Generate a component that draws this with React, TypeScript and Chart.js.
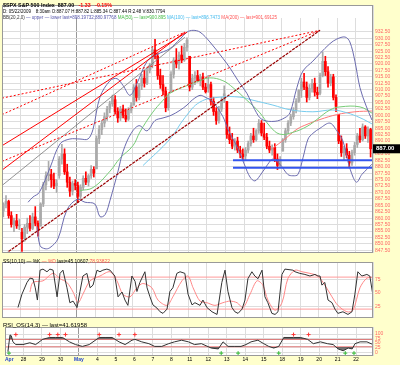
import React, { useEffect, useRef } from 'react';
import { Chart, registerables } from 'chart.js';
Chart.register(...registerables);

const FONT = "'Liberation Sans', Arial, sans-serif";
const YELLOW = '#FFFFCC';

// ---------- categories ----------
const dayLabels = ['Apr', '28', '29', '30', 'May', '4', '5', '6', '7', '8', '11', '12', '13', '14', '15', '18', '19', '20', '21', '22'];
const barsPerDay = 7;
const X_MIN = -0.5;
const X_MAX = 138.9;

// ---------- price tick labels ----------
const priceTicks = [932.5, 930, 927.5, 925, 922.5, 920, 917.5, 915, 912.5, 910, 907.5, 905, 902.5, 900, 897.5, 895, 892.5, 890, 887.5, 885, 882.5, 880, 877.5, 875, 872.5, 870, 867.5, 865, 862.5, 860, 857.5, 855, 852.5, 850, 847.5];
const stochTicks = [25, 50, 75];
const rsiTicks = [0, 25, 50, 75, 100];
const lastPrice = 887.0;

// ---------- candles (hourly-ish bars) ----------
const opens = [
  862.8, 865.5, 866.5, 861.0, 857.5, 859.0, 857.0,
  854.5, 852.0, 856.5, 858.0, 856.0, 860.5, 858.0,
  856.9, 865.5, 873.0, 876.5, 877.0, 875.0, 872.5,
  876.6, 883.0, 885.0, 878.0, 874.0, 870.5, 873.5,
  872.7, 868.5, 872.0, 875.5, 874.0, 876.5, 879.0,
  879.2, 891.0, 894.5, 897.0, 899.5, 902.5, 904.5,
  906.1, 901.5, 899.0, 902.5, 900.0, 898.5, 902.0,
  904.0, 911.0, 907.0, 911.5, 914.5, 912.5, 917.5,
  919.6, 925.5, 923.0, 915.5, 912.0, 909.5, 903.0,
  909.0, 916.0, 921.5, 920.0, 923.5, 921.5, 926.5,
  923.0, 911.0, 914.5, 915.5, 913.5, 915.0, 911.0,
  910.5, 912.0, 905.5, 901.5, 898.0, 902.5, 906.0,
  905.4, 892.5, 890.5, 888.0, 890.0, 886.5, 885.0,
  884.2, 886.5, 889.0, 892.0, 890.5, 894.0, 897.0,
  892.8, 891.5, 888.0, 886.5, 887.5, 883.0, 880.5,
  886.1, 890.5, 894.0, 897.0, 899.5, 902.0, 905.5,
  909.7, 913.0, 911.0, 907.0, 910.5, 912.5, 909.0,
  908.6, 915.5, 921.0, 917.0, 912.5, 915.0, 907.0,
  900.4, 890.0, 885.5, 887.0, 884.5, 881.5, 885.5,
  888.7, 892.0, 890.5, 895.5, 892.0, 894.5,
];
const highs = [
  866.0, 868.8, 867.0, 862.5, 860.0, 861.5, 859.5,
  856.0, 857.5, 860.0, 861.0, 862.0, 864.5, 859.0,
  866.0, 874.0, 878.0, 882.1, 879.0, 877.5, 875.0,
  884.0, 888.7, 887.0, 881.0, 876.0, 874.5, 875.0,
  874.0, 873.0, 876.5, 878.0, 877.0, 880.5, 880.0,
  892.0, 896.0, 898.0, 901.0, 903.5, 905.5, 907.9,
  907.7, 903.0, 903.5, 904.0, 902.5, 903.0, 905.0,
  912.0, 914.0, 912.5, 916.0, 917.5, 918.5, 920.3,
  926.5, 929.6, 924.0, 918.0, 915.5, 911.0, 908.5,
  917.0, 922.5, 926.0, 924.5, 927.0, 928.0, 930.2,
  923.0, 916.0, 917.0, 917.5, 916.0, 916.5, 912.5,
  915.6, 913.0, 907.0, 903.0, 903.5, 907.0, 911.5,
  905.4, 895.5, 893.0, 891.0, 891.5, 888.0, 887.0,
  887.5, 890.0, 893.0, 895.0, 894.5, 898.4, 898.0,
  897.0, 893.0, 890.0, 888.5, 889.0, 885.0, 884.0,
  891.0, 895.0, 898.0, 900.5, 903.0, 906.5, 910.0,
  914.5, 916.4, 913.0, 912.0, 914.0, 914.5, 911.0,
  916.5, 924.6, 923.0, 919.0, 916.0, 916.0, 908.0,
  900.4, 892.0, 888.0, 889.0, 886.0, 886.5, 889.5,
  893.0, 895.0, 896.7, 896.0, 895.5, 895.0,
];
const lows = [
  860.5, 864.0, 860.0, 856.5, 854.7, 856.0, 855.5,
  847.1, 851.0, 854.0, 855.0, 855.5, 857.0, 853.0,
  856.9, 864.5, 871.0, 874.5, 872.0, 871.5, 870.0,
  875.5, 881.0, 877.0, 872.0, 868.5, 869.0, 871.0,
  866.1, 867.5, 871.0, 873.0, 872.5, 875.5, 876.0,
  879.2, 889.0, 892.5, 895.5, 898.0, 901.0, 903.5,
  900.5, 897.3, 898.0, 899.0, 897.5, 898.0, 901.0,
  904.0, 905.5, 906.0, 910.0, 911.0, 912.0, 916.5,
  918.5, 922.0, 914.0, 910.5, 908.0, 901.4, 902.0,
  909.0, 914.5, 918.5, 918.0, 920.5, 921.0, 925.0,
  909.5, 910.0, 912.0, 913.0, 911.5, 910.0, 908.7,
  909.0, 904.0, 900.0, 896.5, 897.0, 901.5, 905.0,
  891.0, 889.0, 887.0, 886.5, 885.5, 883.5, 882.5,
  882.5, 885.5, 888.0, 889.5, 890.0, 893.0, 892.0,
  890.5, 887.0, 885.5, 884.5, 882.0, 878.9, 880.0,
  886.1, 889.5, 893.0, 896.0, 898.5, 901.0, 905.0,
  907.0, 910.0, 905.2, 906.0, 909.0, 907.5, 906.5,
  908.0, 915.0, 915.5, 911.0, 911.5, 906.0, 901.4,
  889.0, 884.0, 882.5, 883.5, 879.6, 880.5, 884.5,
  887.5, 889.5, 890.0, 891.0, 889.5, 883.8,
];
const closes = [
  865.5, 866.5, 861.0, 857.5, 859.0, 857.0, 857.5,
  852.0, 856.5, 858.0, 856.0, 860.5, 858.0, 855.2,
  865.5, 873.0, 876.5, 877.0, 875.0, 872.5, 873.6,
  883.0, 885.0, 878.0, 874.0, 870.5, 873.5, 872.8,
  868.5, 872.0, 875.5, 874.0, 876.5, 879.0, 877.5,
  891.0, 894.5, 897.0, 899.5, 902.5, 904.5, 907.2,
  901.5, 899.0, 902.5, 900.0, 898.5, 902.0, 903.8,
  911.0, 907.0, 911.5, 914.5, 912.5, 917.5, 919.5,
  925.5, 923.0, 915.5, 912.0, 909.5, 903.0, 907.4,
  916.0, 921.5, 920.0, 923.5, 921.5, 926.5, 929.2,
  911.0, 914.5, 915.5, 913.5, 915.0, 911.0, 909.2,
  912.0, 905.5, 901.5, 898.0, 902.5, 906.0, 908.4,
  892.5, 890.5, 888.0, 890.0, 886.5, 885.0, 883.9,
  886.5, 889.0, 892.0, 890.5, 894.0, 897.0, 893.1,
  891.5, 888.0, 886.5, 887.5, 883.0, 880.5, 882.9,
  890.5, 894.0, 897.0, 899.5, 902.0, 905.5, 909.7,
  913.0, 911.0, 907.0, 910.5, 912.5, 909.0, 908.1,
  915.5, 921.0, 917.0, 912.5, 915.0, 907.0, 903.5,
  890.0, 885.5, 887.0, 884.5, 881.5, 885.5, 888.3,
  892.0, 890.5, 895.5, 892.0, 894.5, 887.0,
];

// ---------- overlays: [bar index, price] ----------
const bbUpper: [number, number][] = [
  [9.3, 866.2], [11.1, 868.2], [13.5, 870], [17.5, 879.5], [21.3, 888.9], [25, 890.8], [28.8, 890.8], [31.8, 890.8],
  [33.7, 894.6], [36.3, 907.1], [40.1, 913.5], [42.7, 914.3], [45, 911.6], [47.6, 907.8], [50.2, 912.4], [54, 921],
  [57.7, 923.7], [62.6, 926], [66.4, 929.7], [69, 932.4], [71.3, 933.1], [73.9, 932.4], [77.6, 928.6], [82.5, 922.2],
  [85.2, 918.4], [88.2, 913.5], [91.5, 908.6], [94.5, 902.2], [97.2, 898.4], [102.1, 897.7], [105.8, 899.1],
  [107.7, 901], [110.3, 910.8], [112.6, 917.3], [116.3, 921.1], [119, 924.1], [122.7, 927.9], [125.3, 929.7],
  [128.4, 930.5], [130.2, 928.6], [132.1, 921.1], [134, 910.8], [136.2, 904], [138.5, 898.2],
];
const bbLower: [number, number][] = [
  [12.7, 856.8], [13.8, 849.3], [15.7, 848.1], [17.5, 848.5], [20.5, 851.9], [23.9, 863.2], [27.7, 867.3], [30.7, 866.2],
  [34.4, 865.5], [36.3, 860.6], [38.2, 861.3], [40.1, 867], [43.1, 878.3], [45, 886], [48, 893], [51, 896], [54, 894],
  [57, 898], [60, 899], [63, 900], [66.4, 902], [69, 904], [71, 906], [73.9, 907.8], [75.8, 907.1], [78.8, 905.2],
  [82.5, 899.5], [84.4, 894.6], [86.3, 890.8], [88.2, 887], [90.8, 880.3], [92.7, 876], [94.5, 874.5], [96.4, 876.5],
  [99.4, 881], [101.3, 883], [103.9, 881], [106.9, 877], [108.8, 876.5], [110.7, 877], [112.6, 883.5], [114.5, 890.8],
  [116.3, 893], [119, 895], [122.7, 897], [125.3, 894], [127.6, 890], [129.5, 882], [131.4, 876], [132.8, 874],
  [134.7, 877], [136.6, 879], [138.5, 881],
];
const ma50: [number, number][] = [
  [28.8, 870.7], [33.7, 871.9], [40.1, 878.3], [43.8, 883.3], [48.7, 888.2], [51.3, 893.5], [56, 901], [60, 905.9],
  [62.6, 908.6], [69, 911.6], [73.9, 913.5], [77.6, 914.6], [82.5, 913.5], [86.3, 910.8], [91.5, 905.9], [96.4, 901],
  [100.2, 895.7], [103.9, 892.7], [108.8, 893.4], [114.1, 895.7], [117.8, 898.4], [122.7, 902.1], [126.5, 903.3],
  [134, 903.3], [138.5, 900.9],
];
const ma100: [number, number][] = [
  [52.5, 880.5], [62.6, 890.8], [68.2, 899.1], [73.9, 905.2], [81.4, 907.1], [88.9, 907.1], [93.8, 905.9],
  [101.3, 904], [107.7, 902.2], [116.3, 901.4], [123.8, 902.1], [129.1, 901], [134, 899.1], [138.5, 896.7],
];
const ma200: [number, number][] = [
  [100.9, 887], [105.8, 890.8], [110.3, 894.6], [114.1, 896.5], [119, 898.4], [125.3, 900.3], [132.1, 901.4], [138.5, 901.7],
];

// ---------- trendlines: [bar index, price] endpoints ----------
const channelLine: [number, number][] = [[-0.5, 845.2], [119.0, 933.1]];
const fanLineA: [number, number][] = [[-0.5, 906.7], [119.0, 933.1]];
const fanLineB: [number, number][] = [[-0.5, 882.1], [119.0, 933.1]];
const peakLineA: [number, number][] = [[-0.5, 900.3], [68.2, 932.4]];
const peakLineB: [number, number][] = [[-0.5, 888.2], [69.0, 932.4]];
const peakLineC: [number, number][] = [[-0.5, 878.7], [68.2, 932.4]];
const grayLine: [number, number][] = [[-0.5, 872.7], [68.2, 930.4]];
const supportLevels = [882.5, 879.6];
const supportStart = 86.3;

// ---------- stochastic ----------
const stochK: [number, number][] = [
  [5.5, 23], [7, 48], [8.9, 70], [10, 78], [11.1, 77], [12, 60], [12.8, 37], [13.8, 93], [14.9, 95], [16.4, 90], [17.5, 95],
  [18.7, 93], [20.2, 43], [21.3, 87], [22.4, 93], [23.9, 60], [25, 32], [26.2, 35], [27.7, 23], [28.8, 53], [29.9, 82],
  [31.4, 87], [32.6, 60], [33.7, 65], [35.2, 93], [36.3, 90], [37.4, 93], [38.9, 95], [40.1, 93], [41.9, 82], [43.1, 43],
  [44.6, 52], [45.7, 37], [46.8, 27], [48.3, 82], [49.5, 72], [50.2, 53], [51.3, 70], [53.2, 90], [54, 60], [55.1, 43],
  [56.2, 28], [57.7, 22], [58.9, 15], [60, 12], [61.5, 20], [62.6, 53], [63.7, 60], [65.2, 87], [66.4, 90], [68.2, 87],
  [69.4, 48], [70.9, 28], [72, 32], [73.9, 27], [75, 37], [76.5, 23], [78.4, 15], [80.3, 10], [82.1, 70], [83.3, 93],
  [84.4, 53], [85.9, 23], [87, 15], [88.2, 12], [89.7, 20], [90.8, 37], [91.9, 77], [93.4, 90], [94.5, 82], [95.7, 77],
  [97.2, 93], [98.3, 43], [99.4, 32], [100.9, 12], [102.1, 10], [103.2, 15], [104.7, 85], [105.8, 95], [108.8, 93],
  [109.6, 90], [111.4, 87], [113.3, 85], [115.2, 82], [117.1, 85], [118.2, 82], [119, 82], [119.7, 65], [120.8, 70],
  [122, 37], [123.5, 32], [124.6, 20], [125.7, 12], [127.6, 15], [129.5, 10], [131, 15], [132.1, 48], [133.2, 90],
  [134.7, 82], [136.6, 85], [137.7, 82], [138.9, 45],
];
const stochD: [number, number][] = [
  [10, 52], [11.1, 70], [14.9, 73], [18.7, 87], [21.3, 77], [23.9, 70], [26.2, 52], [28.1, 32], [29.9, 48], [32.6, 73],
  [36.3, 82], [40.1, 90], [42.7, 73], [44.9, 48], [47.6, 43], [50.2, 60], [52.4, 68], [55.8, 60], [58.1, 37], [61.5, 27],
  [63.7, 43], [67.1, 73], [69.4, 82], [71.3, 60], [73.9, 35], [76.5, 32], [79.5, 27], [82.5, 32], [85.2, 35], [87.8, 32],
  [90.1, 23], [92.7, 48], [95.3, 73], [97.5, 65], [99.4, 37], [102.1, 18], [104.7, 32], [106.9, 77], [109.6, 93],
  [112.2, 90], [115.2, 87], [118.2, 82], [120.8, 65], [123.5, 43], [125.7, 27], [129.1, 15], [131.4, 18], [134, 60],
  [136.6, 78], [138.9, 79],
];
const stochLevels = [80, 20];

// ---------- RSI ----------
const rsi: [number, number][] = [
  [0.6, 3], [1.4, 95], [1.9, 90], [2.5, 57], [3.6, 42], [6.3, 42], [8.9, 52], [11.1, 42], [13.8, 71], [16.4, 81],
  [18.7, 81], [21.3, 81], [23.9, 57], [26.2, 42], [28.8, 32], [31.4, 42], [35.2, 81], [37.4, 81], [40.1, 81],
  [42.7, 57], [45, 42], [47.6, 66], [48.7, 71], [51.3, 57], [54, 47], [56.2, 32], [58.9, 32], [61.5, 47], [63.7, 57],
  [66.4, 66], [69, 57], [71.3, 42], [73.9, 47], [77.6, 23], [80.3, 18], [82.1, 57], [84, 32], [86.3, 32], [88.9, 32],
  [90.8, 42], [92.7, 57], [95.3, 66], [97.5, 47], [99.4, 32], [101.3, 23], [103.2, 32], [105.1, 81], [108.8, 81],
  [111.4, 81], [114.1, 71], [116.3, 47], [119, 57], [121.6, 47], [123.8, 42], [125.7, 18], [127.6, 8], [129.5, 23],
  [131, 18], [132.1, 47], [134, 57], [136.6, 57], [138.9, 42],
];
const rsiLevels = [70, 30];
const rsiSellMarks = [3.6, 16.4, 19.5, 22.4, 35.2, 42.7, 48.7, 108.8, 114.5];
const rsiBuyMarks = [1.0, 81.4, 87.8, 103.2, 128.4, 131.7];

// ---------- helpers ----------
type Run = { t: string; c: string; b?: boolean };

function drawRuns(ctx: CanvasRenderingContext2D, runs: Run[], x: number, y: number, size: number, width?: number) {
  ctx.save();
  ctx.textBaseline = 'middle';
  ctx.textAlign = 'left';
  let total = 0;
  runs.forEach((r) => {
    ctx.font = `${r.b ? 'bold ' : ''}${size}px ${FONT}`;
    total += ctx.measureText(r.t).width;
  });
  const f = width ? width / total : 1;
  ctx.translate(x, y);
  ctx.scale(f, 1);
  let cx = 0;
  runs.forEach((r) => {
    ctx.font = `${r.b ? 'bold ' : ''}${size}px ${FONT}`;
    ctx.fillStyle = r.c;
    ctx.fillText(r.t, cx, 0);
    cx += ctx.measureText(r.t).width;
  });
  ctx.restore();
}

const dayTicks = [...dayLabels.map((_, d) => d * barsPerDay - 0.5), X_MAX];

function xScale(showLabels: boolean) {
  return {
    type: 'linear',
    min: X_MIN,
    max: X_MAX,
    offset: false,
    afterBuildTicks: (s: any) => {
      s.ticks = dayTicks.map((v) => ({ value: v }));
    },
    afterFit: (s: any) => {
      s.height = showLabels ? 9 : 0;
    },
    grid: {
      offset: false,
      drawTicks: false,
      color: (c: any) => (c.tick && c.tick.value === dayTicks[4] ? '#999999' : '#DDDDDD'),
      lineWidth: 1,
    },
    border: { display: false },
    ticks: {
      display: showLabels,
      autoSkip: false,
      maxRotation: 0,
      padding: 1,
      align: 'inner',
      callback: (_v: any, i: number) => dayLabels[i] ?? '',
      color: (c: any) => (c.index === 0 || c.index === 4 ? '#2244CC' : '#000000'),
      font: (c: any) => ({ size: 5, family: FONT, weight: c.index === 0 || c.index === 4 ? 'bold' : 'normal' }),
    },
  };
}

function yScale(min: number, max: number, ticks: number[], fmt: (v: number) => string, size = 5) {
  return {
    position: 'right',
    min,
    max,
    afterBuildTicks: (s: any) => {
      s.ticks = ticks.map((v) => ({ value: v }));
    },
    afterFit: (s: any) => {
      s.width = 27;
    },
    grid: { color: '#DDDDDD', drawTicks: false },
    border: { display: false },
    ticks: {
      autoSkip: false,
      padding: 2,
      color: '#FF6666',
      font: { size, family: FONT },
      callback: (v: any) => fmt(Number(v)),
    },
  };
}

const pts = (arr: [number, number][]) => arr.map(([x, y]) => ({ x, y }));

function lineDs(arr: [number, number][], color: string, width = 1, extra: any = {}) {
  return {
    type: 'line',
    data: pts(arr),
    borderColor: color,
    borderWidth: width,
    pointRadius: 0,
    fill: false,
    tension: 0,
    order: 1,
    ...extra,
  };
}

function panelPlugin(id: string, draw: (chart: any) => void) {
  return {
    id,
    beforeDraw(chart: any) {
      const { ctx, chartArea: a } = chart;
      ctx.save();
      ctx.fillStyle = '#FFFFFF';
      ctx.fillRect(a.left, a.top, a.right - a.left, a.bottom - a.top);
      ctx.restore();
    },
    afterDraw(chart: any) {
      const { ctx, chartArea: a } = chart;
      ctx.save();
      ctx.strokeStyle = '#999999';
      ctx.lineWidth = 1;
      ctx.strokeRect(Math.round(a.left) + 0.5, Math.round(a.top) + 0.5, Math.round(a.right - a.left) - 1, Math.round(a.bottom - a.top) - 1);
      ctx.restore();
      draw(chart);
    },
  };
}

const baseOptions = (padding: any) => ({
  responsive: false,
  animation: false,
  devicePixelRatio: 1,
  events: [],
  layout: { padding },
  plugins: { legend: { display: false }, tooltip: { enabled: false } },
});

function candleColor(i: number) {
  const prev = i > 0 ? closes[i - 1] : opens[i];
  const down = closes[i] < prev;
  const hollow = closes[i] >= opens[i];
  if (down) return hollow ? '#FF8888' : '#FF0000';
  return hollow ? '#AAAAAA' : '#555555';
}

function mainConfig(): any {
  const colors = opens.map((_, i) => candleColor(i));
  const full: [number, number][] = (v: number) => [[X_MIN, v], [X_MAX, v]] as any;
  return {
    type: 'bar',
    data: {
      datasets: [
        lineDs(channelLine, '#990000', 1.2, { borderDash: [3, 1] }),
        lineDs(fanLineA, '#FF0000', 1, { borderDash: [2, 2] }),
        lineDs(fanLineB, '#FF0000', 1, { borderDash: [2, 2] }),
        lineDs(peakLineA, '#FF0000', 1, { borderDash: [2, 2] }),
        lineDs(peakLineB, '#FF0000', 1),
        lineDs(peakLineC, '#FF0000', 1),
        lineDs(grayLine, '#777777', 0.8),
        ...supportLevels.map((v) => lineDs([[supportStart, v], [X_MAX, v]], '#3355EE', 2)),
        lineDs(bbUpper, '#6B6BAF', 1, { tension: 0.35 }),
        lineDs(bbLower, '#6B6BAF', 1, { tension: 0.35 }),
        lineDs(ma50, '#77CC77', 1, { tension: 0.4 }),
        lineDs(ma100, '#77CCEE', 1, { tension: 0.4 }),
        lineDs(ma200, '#FF7777', 1, { tension: 0.4 }),
        {
          type: 'bar',
          data: opens.map((o, i) => ({ x: i, y: [o, closes[i]] })),
          backgroundColor: colors,
          barThickness: 2,
          grouped: false,
          borderWidth: 0,
          order: 5,
        },
        {
          type: 'bar',
          data: opens.map((_, i) => ({ x: i, y: [lows[i], highs[i]] })),
          backgroundColor: colors,
          barThickness: 1,
          grouped: false,
          borderWidth: 0,
          order: 6,
        },
      ],
    },
    options: {
      ...baseOptions({ left: 2, top: 2, right: 0, bottom: 0.5 }),
      scales: {
        x: xScale(false),
        y: yScale(846.44, 942.96, priceTicks, (v) => v.toFixed(2)),
      },
    },
    plugins: [
      panelPlugin('mainPanel', (chart: any) => {
        const { ctx, chartArea: a, scales } = chart;
        ctx.save();
        ctx.fillStyle = '#FFFFFF';
        ctx.fillRect(a.left + 1, a.top + 1, a.right - a.left - 2, 12);
        ctx.restore();
        drawRuns(ctx, [
          { t: '$SPX S&P 500 Index  ', c: '#000', b: true },
          { t: '887.00', c: '#000', b: true },
          { t: '   -1.33', c: '#FF0000', b: true },
          { t: '   -0.15%', c: '#FF0000', b: true },
        ], 3, 5.5, 6, 109);
        drawRuns(ctx, [
          { t: 'D: 05/22/2009    8:30am O:887.07 H:887.82 L:885.34 C:887.44 R:2.48 V:830.7794', c: '#000' },
        ], 3, 11.5, 5, 162);
        drawRuns(ctx, [
          { t: 'BB(20,2.0) ', c: '#333' },
          { t: '\u2014 upper \u2014 lower last=898.19732;880.97768 ', c: '#5555AA' },
          { t: 'MA(50) \u2014 last=900.895 ', c: '#44BB44' },
          { t: 'MA(100) \u2014 last=896.7473 ', c: '#44BBEE' },
          { t: 'MA(200) \u2014 last=901.69125', c: '#FF5555' },
        ], 3, 17.5, 5, 274);
        const y = scales.y.getPixelForValue(lastPrice);
        ctx.save();
        ctx.fillStyle = '#000000';
        ctx.fillRect(a.right, y - 4.5, 400 - a.right, 9);
        ctx.restore();
        drawRuns(ctx, [{ t: '887.00', c: '#FFFFFF', b: true }], a.right + 3, y, 6);
      }),
    ],
  };
}

function stochConfig(): any {
  return {
    type: 'line',
    data: {
      datasets: [
        lineDs(stochK, '#333333', 1, { order: 0 }),
        lineDs(stochD, '#FF8888', 1, { order: 1, tension: 0.3 }),
        ...stochLevels.map((v) => lineDs([[X_MIN, v], [X_MAX, v]], '#FF9999', 1, { order: 3 })),
      ],
    },
    options: {
      ...baseOptions({ left: 2, top: 2, right: 0, bottom: 1 }),
      scales: {
        x: xScale(false),
        y: yScale(3.33, 108.3, stochTicks, (v) => String(v)),
      },
    },
    plugins: [
      panelPlugin('stochPanel', (chart: any) => {
        drawRuns(chart.ctx, [
          { t: 'SS(10,10) \u2014 %K ', c: '#000' },
          { t: '\u2014 %D ', c: '#FF5555' },
          { t: 'last=45.10607', c: '#000' },
          { t: ';78.93822', c: '#FF5555' },
        ], 3, 5, 5, 107);
      }),
    ],
  };
}

function rsiConfig(): any {
  return {
    type: 'line',
    data: {
      datasets: [
        lineDs(rsi, '#333333', 1, { order: 0, fill: { target: { value: 70 }, above: 'rgba(70,70,70,0.75)', below: 'rgba(0,0,0,0)' } }),
        lineDs(rsi, 'rgba(0,0,0,0)', 0, { order: 1, fill: { target: { value: 30 }, above: 'rgba(0,0,0,0)', below: 'rgba(70,70,70,0.75)' } }),
        ...rsiLevels.map((v) => lineDs([[X_MIN, v], [X_MAX, v]], '#FF8888', 1, { order: 3 })),
        {
          type: 'scatter',
          data: rsiSellMarks.map((x) => ({ x, y: 97 })),
          pointStyle: 'cross',
          pointRadius: 2,
          borderColor: '#FF3333',
          borderWidth: 1,
          order: 0,
        },
        {
          type: 'scatter',
          data: rsiBuyMarks.map((x) => ({ x, y: -5 })),
          pointStyle: 'cross',
          pointRadius: 2,
          borderColor: '#33BB33',
          borderWidth: 1,
          order: 0,
        },
      ],
    },
    options: {
      ...baseOptions({ left: 2, top: 1, right: 0, bottom: 0 }),
      scales: {
        x: xScale(true),
        y: yScale(-20.8, 138.6, rsiTicks, (v) => String(v), 5),
      },
    },
    plugins: [
      panelPlugin('rsiPanel', (chart: any) => {
        drawRuns(chart.ctx, [{ t: 'RSI_OS(14,3) \u2014 last=41.61958', c: '#000' }], 3, 4, 5, 84);
      }),
    ],
  };
}

export default function App() {
  const mainRef = useRef<HTMLCanvasElement>(null);
  const stochRef = useRef<HTMLCanvasElement>(null);
  const rsiRef = useRef<HTMLCanvasElement>(null);

  useEffect(() => {
    const charts = [
      new Chart(mainRef.current as HTMLCanvasElement, mainConfig()),
      new Chart(stochRef.current as HTMLCanvasElement, stochConfig()),
      new Chart(rsiRef.current as HTMLCanvasElement, rsiConfig()),
    ];
    return () => charts.forEach((c) => c.destroy());
  }, []);

  const cs = (top: number, h: number): React.CSSProperties => ({ position: 'absolute', left: 0, top, width: 400, height: h });
  return (
    <div style={{ position: 'fixed', left: 0, top: 0, width: 400, height: 365, background: YELLOW, overflow: 'hidden' }}>
      <canvas ref={mainRef} width={400} height={258} style={cs(0, 258)} />
      <canvas ref={stochRef} width={400} height={66} style={cs(257, 66)} />
      <canvas ref={rsiRef} width={400} height={43} style={cs(322, 43)} />
    </div>
  );
}
